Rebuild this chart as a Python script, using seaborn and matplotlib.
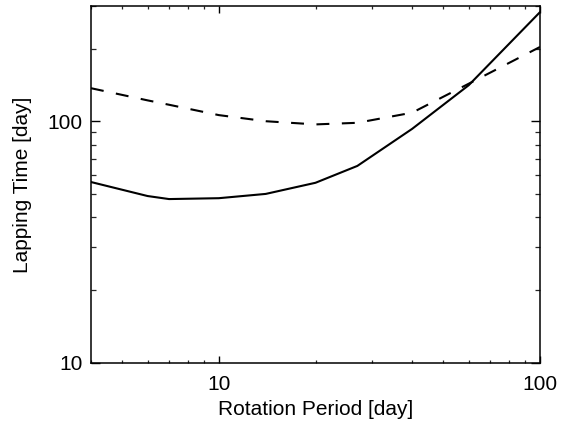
import numpy as np
import pandas as pd
import matplotlib
matplotlib.use("Agg")
import matplotlib.pyplot as plt
import matplotlib.ticker as mticker
import seaborn as sns

# Data
period = [4, 6, 7, 10, 14, 20, 27, 40, 60, 100]
lap_solid = [56, 49, 47.6, 48, 50, 55.6, 65.3, 93, 141, 283]
lap_dashed = [137, 122, 117, 106, 100, 97, 98.5, 108.5, 143, 203]

xticks = [10, 100]
xticklabels = ["10", "100"]
yticks = [10, 100]
yticklabels = ["10", "100"]

sns.set_theme(style="ticks")
plt.rcParams['font.family'] = ['Liberation Sans', 'DejaVu Sans']

df = pd.DataFrame({"period": period, "solid": lap_solid, "dashed": lap_dashed})

fig = plt.figure(figsize=(5.74, 4.23), dpi=100)
ax = fig.add_axes([91/574, 1 - 362.7/423, (540-91)/574, (362.7-6)/423])

sns.lineplot(data=df, x="period", y="solid", ax=ax, color="black", linewidth=1.5)
sns.lineplot(data=df, x="period", y="dashed", ax=ax, color="black", linewidth=1.5,
             dashes=False)
ax.lines[-1].set_dashes((6.2, 6.0))

ax.set_xscale("log")
ax.set_yscale("log")
ax.set_xlim(4, 100)
ax.set_ylim(10, 300)

ax.xaxis.set_major_locator(mticker.FixedLocator(xticks))
ax.xaxis.set_major_formatter(mticker.FixedFormatter(xticklabels))
ax.yaxis.set_major_locator(mticker.FixedLocator(yticks))
ax.yaxis.set_major_formatter(mticker.FixedFormatter(yticklabels))
ax.xaxis.set_minor_locator(mticker.LogLocator(base=10, subs=np.arange(2, 10)))
ax.yaxis.set_minor_locator(mticker.LogLocator(base=10, subs=np.arange(2, 10)))
ax.xaxis.set_minor_formatter(mticker.NullFormatter())
ax.yaxis.set_minor_formatter(mticker.NullFormatter())

for s in ax.spines.values():
    s.set_visible(True)
    s.set_linewidth(1.1)
    s.set_color("black")

ax.tick_params(axis="x", which="major", direction="in", length=5, width=1.0,
               top=True, bottom=True, labelsize=15, pad=9, colors="black")
ax.tick_params(axis="x", which="minor", direction="in", length=2.5, width=0.9,
               top=True, bottom=True)
ax.tick_params(axis="y", which="major", direction="in", length=6.5, width=1.0,
               left=True, right=True, labelsize=15, pad=6, colors="black")
ax.tick_params(axis="y", which="minor", direction="in", length=3.6, width=0.9,
               left=True, right=True)

ax.set_xlabel("Rotation Period [day]", fontsize=15, color="black", labelpad=4)
ax.set_ylabel("Lapping Time [day]", fontsize=15, color="black", labelpad=11)

fig.savefig("out.png", dpi=100)
